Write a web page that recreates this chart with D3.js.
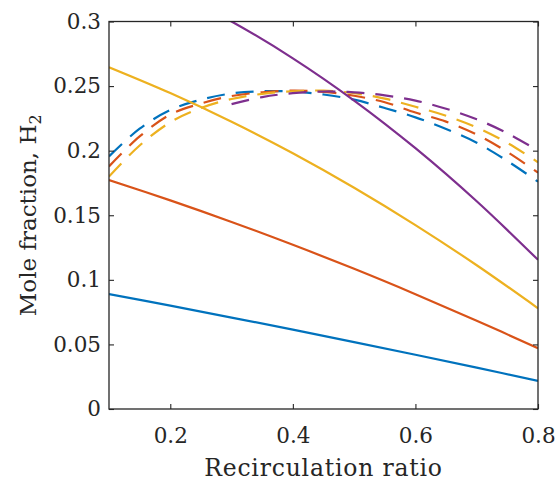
<!DOCTYPE html>
<html><head><meta charset="utf-8">
<script src="https://cdn.jsdelivr.net/npm/d3@7"></script>
<style>body{margin:0;background:#fff}svg{display:block}</style>
</head><body>
<script>
// ---- data ----
const xVals = [0.1,0.15,0.2,0.25,0.3,0.35,0.4,0.45,0.5,0.55,0.6,0.65,0.7,0.75,0.8];
const solidX = [0.1,0.2,0.3,0.4,0.5,0.6,0.7,0.8];
const solidBlue   = [0.089,0.080,0.0708,0.0614,0.0518,0.042,0.032,0.0218];
const solidOrange = [0.1773,0.1615,0.1448,0.1271,0.1085,0.0889,0.0684,0.047];
const solidYellow = [0.2646,0.2446,0.2224,0.1980,0.1713,0.1424,0.1113,0.078];
const solidPurple = [0.3444,0.3243,0.300,0.2715,0.2388,0.2019,0.1608,0.1155];
const dashBlue   = [0.1956,0.217,0.2315,0.2395,0.2443,0.246,0.2458,0.2435,0.2395,0.233,0.2258,0.2168,0.2062,0.192,0.176];
const dashOrange = [0.1878,0.211,0.228,0.2365,0.2423,0.2452,0.2465,0.2455,0.2425,0.2375,0.2295,0.2225,0.2125,0.199,0.183];
const dashYellow = [0.180,0.204,0.222,0.233,0.240,0.244,0.246,0.2465,0.2445,0.2403,0.234,0.227,0.218,0.206,0.191];
const dashPurpleX = [0.3,0.35,0.4,0.45,0.5,0.55,0.6,0.65,0.7,0.75,0.8];
const dashPurple = [0.236,0.2415,0.2445,0.2458,0.2452,0.2428,0.2388,0.2325,0.2243,0.2135,0.200];
const xTicks = [0.2,0.4,0.6,0.8];
const yTicks = [0,0.05,0.1,0.15,0.2,0.25,0.3];
const yTickLabels = ["0","0.05","0.1","0.15","0.2","0.25","0.3"];
const xTickLabels = ["0.2","0.4","0.6","0.8"];
const colors = {blue:"#0072BD", orange:"#D95319", yellow:"#EDB120", purple:"#7E2F8E"};

const W=558,H=488;
const L=109,R=538,T=21.5,B=409;
const svg=d3.select("body").append("svg").attr("width",W).attr("height",H);
const x=d3.scaleLinear().domain([0.1,0.8]).range([L,R]);
const y=d3.scaleLinear().domain([0,0.3]).range([B,T]);

svg.append("defs").append("clipPath").attr("id","clip")
  .append("rect").attr("x",L).attr("y",T).attr("width",R-L).attr("height",B-T);

const line=d3.line().x(d=>x(d[0])).y(d=>y(d[1])).curve(d3.curveCatmullRom.alpha(0.5));
const g=svg.append("g").attr("clip-path","url(#clip)");
function draw(xs,ys,c,dashed){
  g.append("path").datum(xs.map((v,i)=>[v,ys[i]]))
   .attr("d",line).attr("fill","none").attr("stroke",c).attr("stroke-width",2.2)
   .attr("stroke-dasharray",dashed?"18,11":null);
}
draw(solidX,solidBlue,colors.blue,false);
draw(xVals,dashBlue,colors.blue,true);
draw(solidX,solidOrange,colors.orange,false);
draw(xVals,dashOrange,colors.orange,true);
draw(solidX,solidYellow,colors.yellow,false);
draw(xVals,dashYellow,colors.yellow,true);
draw(solidX,solidPurple,colors.purple,false);
draw(dashPurpleX,dashPurple,colors.purple,true);

// axes
const axCol="#262626";
const font="DejaVu Serif";
const axB=svg.append("g").attr("transform",`translate(0,${B})`)
  .call(d3.axisBottom(x).tickValues(xTicks).tickSize(-5).tickPadding(19).tickFormat((d,i)=>xTickLabels[i]));
const axT=svg.append("g").attr("transform",`translate(0,${T})`)
  .call(d3.axisTop(x).tickValues(xTicks).tickSize(-5).tickFormat(""));
const axL=svg.append("g").attr("transform",`translate(${L},0)`)
  .call(d3.axisLeft(y).tickValues(yTicks).tickSize(-5).tickPadding(8).tickFormat((d,i)=>yTickLabels[i]));
const axR=svg.append("g").attr("transform",`translate(${R},0)`)
  .call(d3.axisRight(y).tickValues(yTicks).tickSize(-5).tickFormat(""));
[axB,axT,axL,axR].forEach(a=>{
  a.attr("font-family",font).attr("font-size",21.5);
  a.select(".domain").remove();
  a.selectAll(".tick line").attr("stroke",axCol).attr("stroke-width",1.1);
  a.selectAll("text").attr("fill",axCol).attr("font-family",font).attr("font-size",21.5);
});
svg.append("rect").attr("x",L).attr("y",T).attr("width",R-L).attr("height",B-T)
  .attr("fill","none").attr("stroke",axCol).attr("stroke-width",1.3);

svg.append("text").attr("x",(L+R)/2).attr("y",476).attr("text-anchor","middle")
  .attr("fill",axCol).attr("font-family",font).attr("font-size",23.5)
  .attr("letter-spacing",0.8).text("Recirculation ratio");

const yl=svg.append("text").attr("fill",axCol).attr("font-family",font).attr("font-size",23);
yl.append("tspan").text("Mole fraction, H");
yl.append("tspan").attr("dy",5).attr("font-size",16).text("2");
const len=yl.node().getComputedTextLength();
yl.attr("transform",`translate(36,${(T+B)/2+len/2}) rotate(-90)`);
</script>
</body></html>
